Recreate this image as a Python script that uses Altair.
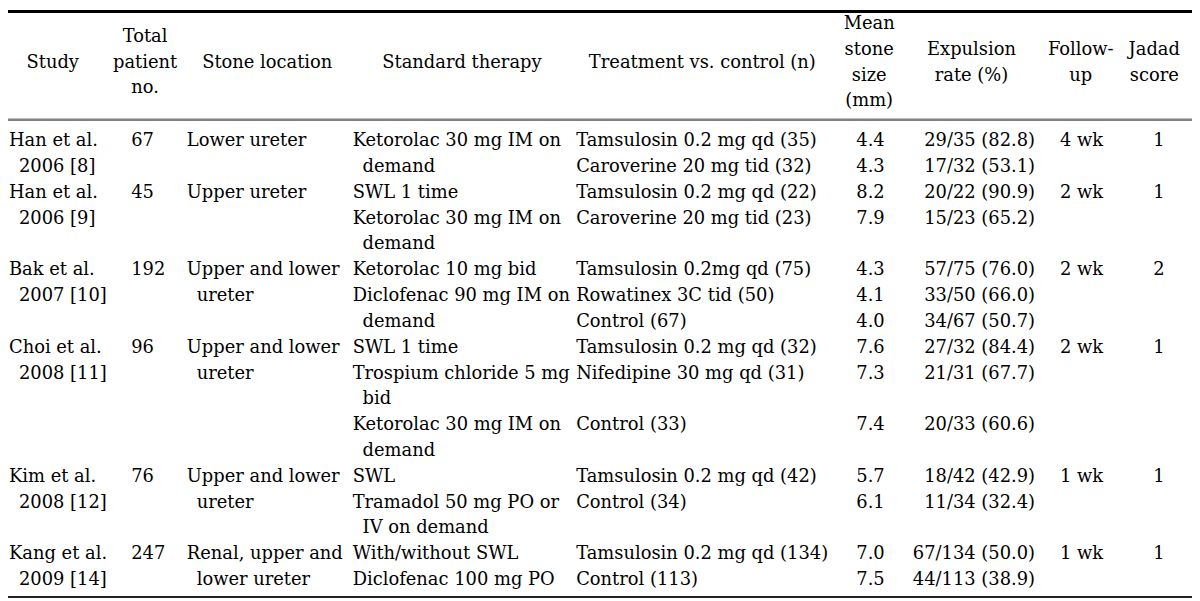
import altair as alt
import pandas as pd

# ---------------- data ----------------
header = [["Study"], ["Total", "patient", "no."], ["Stone location"], ["Standard therapy"],
          ["Treatment vs. control (n)"], ["Mean", "stone", "size", "(mm)"],
          ["Expulsion", "rate (%)"], ["Follow-", "up"], ["Jadad", "score"]]

study_line = [0, 2, 5, 8, 13, 16]
study = ["Han et al.\n2006 [8]", "Han et al.\n2006 [9]", "Bak et al.\n2007 [10]",
         "Choi et al.\n2008 [11]", "Kim et al.\n2008 [12]", "Kang et al.\n2009 [14]"]
total_patients = [67, 45, 192, 96, 76, 247]
stone_location = ["Lower ureter", "Upper ureter", "Upper and lower\nureter",
                  "Upper and lower\nureter", "Upper and lower\nureter",
                  "Renal, upper and\nlower ureter"]
follow_up = ["4 wk", "2 wk", "2 wk", "2 wk", "1 wk", "1 wk"]
jadad = [1, 1, 2, 1, 1, 1]

therapy_line = [0, 2, 3, 5, 6, 8, 9, 11, 13, 14, 16, 17]
therapy = ["Ketorolac 30 mg IM on\ndemand", "SWL 1 time", "Ketorolac 30 mg IM on\ndemand",
           "Ketorolac 10 mg bid", "Diclofenac 90 mg IM on\ndemand", "SWL 1 time",
           "Trospium chloride 5 mg\nbid", "Ketorolac 30 mg IM on\ndemand", "SWL",
           "Tramadol 50 mg PO or\nIV on demand", "With/without SWL", "Diclofenac 100 mg PO"]

arm_line = [0, 1, 2, 3, 5, 6, 7, 8, 9, 11, 13, 14, 16, 17]
arm_name = ["Tamsulosin 0.2 mg qd", "Caroverine 20 mg tid", "Tamsulosin 0.2 mg qd",
            "Caroverine 20 mg tid", "Tamsulosin 0.2mg qd", "Rowatinex 3C tid", "Control",
            "Tamsulosin 0.2 mg qd", "Nifedipine 30 mg qd", "Control", "Tamsulosin 0.2 mg qd",
            "Control", "Tamsulosin 0.2 mg qd", "Control"]
arm_n = [35, 32, 22, 23, 75, 50, 67, 32, 31, 33, 42, 34, 134, 113]
stone_size = [4.4, 4.3, 8.2, 7.9, 4.3, 4.1, 4.0, 7.6, 7.3, 7.4, 5.7, 6.1, 7.0, 7.5]
expelled = [29, 17, 20, 15, 57, 33, 34, 27, 21, 20, 18, 11, 67, 44]
expulsion_pct = [82.8, 53.1, 90.9, 65.2, 76.0, 66.0, 50.7, 84.4, 67.7, 60.6, 42.9, 32.4, 50.0, 38.9]

# ---------------- tables for the library ----------------
body = []


def add(ci, line, text):
    for k, part in enumerate(str(text).split("\n")):
        body.append({"ci": ci, "line": line + k, "text": part, "cont": k > 0})


for i, ln in enumerate(study_line):
    add(0, ln, study[i])
    add(1, ln, total_patients[i])
    add(2, ln, stone_location[i])
    add(7, ln, follow_up[i])
    add(8, ln, jadad[i])
for ln, t in zip(therapy_line, therapy):
    add(3, ln, t)
for i, ln in enumerate(arm_line):
    add(4, ln, f"{arm_name[i]} ({arm_n[i]})")
    add(5, ln, f"{stone_size[i]:.1f}")
    add(6, ln, f"{expelled[i]}/{arm_n[i]} ({expulsion_pct[i]:.1f})")
body_df = pd.DataFrame(body)

head = []
for ci, lines in enumerate(header):
    n = len(lines)
    for j, t in enumerate(lines):
        head.append({"ci": ci, "hy": j - (n - 1) / 2, "text": t})
head_df = pd.DataFrame(head)

# ---------------- layout ----------------
W, H = 1192, 593
FONT = "DejaVu Serif"
FS = 18
body_x = [1, 124, 180, 347, 572, 854, 1034, 1059, 1153]
head_x = [45, 138, 261, 457, 699, 867, 970, 1080, 1154]

bx = alt.X("ci:Q", scale=alt.Scale(domain=list(range(9)), range=body_x), axis=None)
by = alt.Y("line:Q", scale=alt.Scale(domain=[0, 17], range=[132, 574]), axis=None)

base = alt.Chart(body_df)
left_first = base.mark_text(align="left", baseline="middle", font=FONT, fontSize=FS,
                            color="#000").encode(x=bx, y=by, text="text:N").transform_filter(
    "datum.ci != 6 && !datum.cont")
left_cont = base.mark_text(align="left", baseline="middle", font=FONT, fontSize=FS,
                           color="#000", dx=10).encode(x=bx, y=by, text="text:N").transform_filter(
    "datum.ci != 6 && datum.cont")
right = base.mark_text(align="right", baseline="middle", font=FONT, fontSize=FS,
                       color="#000").encode(x=bx, y=by, text="text:N").transform_filter(
    "datum.ci == 6")

head_layer = alt.Chart(head_df).mark_text(align="center", baseline="middle", font=FONT,
                                          fontSize=FS, color="#000").encode(
    x=alt.X("ci:Q", scale=alt.Scale(domain=list(range(9)), range=head_x), axis=None),
    y=alt.Y("hy:Q", scale=alt.Scale(domain=[-1.5, 1.5], range=[14, 92]), axis=None),
    text="text:N")

rule_df = pd.DataFrame({"k": [0]})
top_rule = alt.Chart(rule_df).mark_rule(color="#000", strokeWidth=3).encode(
    x=alt.value(0), x2=alt.value(W), y=alt.value(1.5))
mid_rule = alt.Chart(rule_df).mark_rule(color="#808080", strokeWidth=2.5).encode(
    x=alt.value(0), x2=alt.value(W), y=alt.value(110.5))
bot_rule = alt.Chart(rule_df).mark_rule(color="#222", strokeWidth=2).encode(
    x=alt.value(0), x2=alt.value(W), y=alt.value(591))

chart = alt.layer(top_rule, mid_rule, bot_rule, head_layer, left_first, left_cont, right).resolve_scale(
    x="independent", y="independent"
).properties(
    width=W, height=H, padding=0, autosize=alt.AutoSizeParams(type="none"), background="white"
).configure_view(stroke=None)

chart.save("out.html", embed_options={"renderer": "svg", "actions": False})
